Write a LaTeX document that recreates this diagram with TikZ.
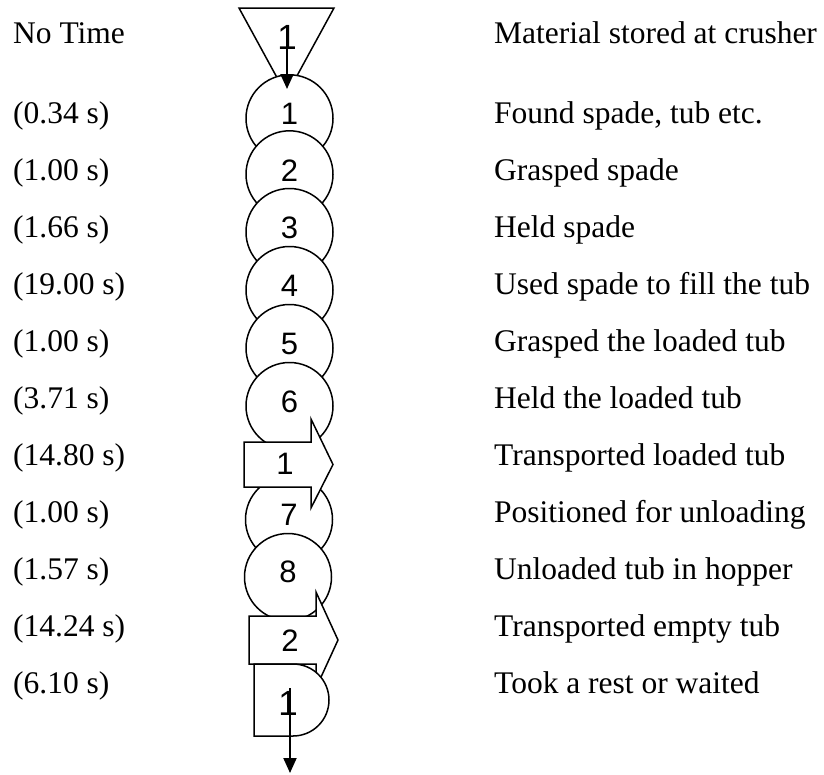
\documentclass[tikz,border=0pt]{standalone}
\usepackage{fontspec}
\setmainfont{Liberation Serif}
\newfontfamily\arialfont{Liberation Sans}
\usetikzlibrary{arrows.meta}
\tikzset{
  outline/.style={draw=black, line width=1.5pt, fill=white, line join=miter},
  opcircle/.style={circle, outline, minimum size=87pt, inner sep=0pt},
  lbl/.style={font=\arialfont\fontsize{31}{33}\selectfont, inner sep=0pt},
  biglbl/.style={font=\arialfont\fontsize{35}{37}\selectfont, inner sep=0pt},
  txt/.style={font=\fontsize{31.5}{36}\selectfont, anchor=base west, inner sep=0pt},
  flow/.style={line width=2pt, -{Triangle[width=13pt,length=15pt]}}
}
\begin{document}
\begin{tikzpicture}[x=1pt,y=-1pt]
\useasboundingbox (0,0) rectangle (824,774);
% storage triangle
\draw[outline] (239,8) -- (334,8) -- (286.5,95) -- cycle;
\node[biglbl] (t1) at (287,37) {1};
% operation circles
\foreach \i/\y in {1/118.3,2/174.3,3/232,4/290,5/348,6/406}{
  \node[opcircle] (c\i) at (289.5,\y) {};
  \node[lbl] (cl\i) at (289.5,\y-4) {\i};
}
% operation 7 (below transport 1)
\node[opcircle] (c7) at (289,519.5) {};
\node[lbl] (cl7) at (289,514.5) {7};
% transport 1
\draw[outline] (244,442) -- (311,442) -- (311,419) -- (333,464.5) -- (311,508) -- (311,487) -- (244,487) -- cycle;
\node[lbl] (tr1) at (285,464) {1};
% operation 8
\node[opcircle] (c8) at (288,577) {};
\node[lbl] (cl8) at (288,572) {8};
% transport 2
\draw[outline] (249,616) -- (316,616) -- (316,592) -- (338,640) -- (316,688) -- (316,664) -- (249,664) -- cycle;
\node[lbl] (tr2) at (290,641) {2};
% delay
\draw[outline] (254,664) -- (293,664) arc[start angle=-90, end angle=90, radius=36] -- (254,736) -- cycle;
\node[biglbl] (d1) at (288,703) {1};
% flow arrows
\coordinate (a0) at (287,26);
\coordinate (a1) at (287,89);
\draw[flow] (a0) -- (a1);
\coordinate (b0) at (290,688);
\coordinate (b1) at (290,773);
\draw[flow] (b0) -- (b1);
% left column
\foreach \y/\t in {43/No Time,123/(0.34 s),180/(1.00 s),237/(1.66 s),294/(19.00 s),351/(1.00 s),408/(3.71 s),465/(14.80 s),522/(1.00 s),579/(1.57 s),636/(14.24 s),693/(6.10 s)}{
  \node[txt] at (13,\y) {\t};
}
% right column
\foreach \y/\t in {43/Material stored at crusher,123/{Found spade, tub etc.},180/Grasped spade,237/Held spade,294/Used spade to fill the tub,351/Grasped the loaded tub,408/Held the loaded tub,465/Transported loaded tub,522/Positioned for unloading,579/Unloaded tub in hopper,636/Transported empty tub,693/Took a rest or waited}{
  \node[txt] at (494,\y) {\t};
}
\end{tikzpicture}
\end{document}
